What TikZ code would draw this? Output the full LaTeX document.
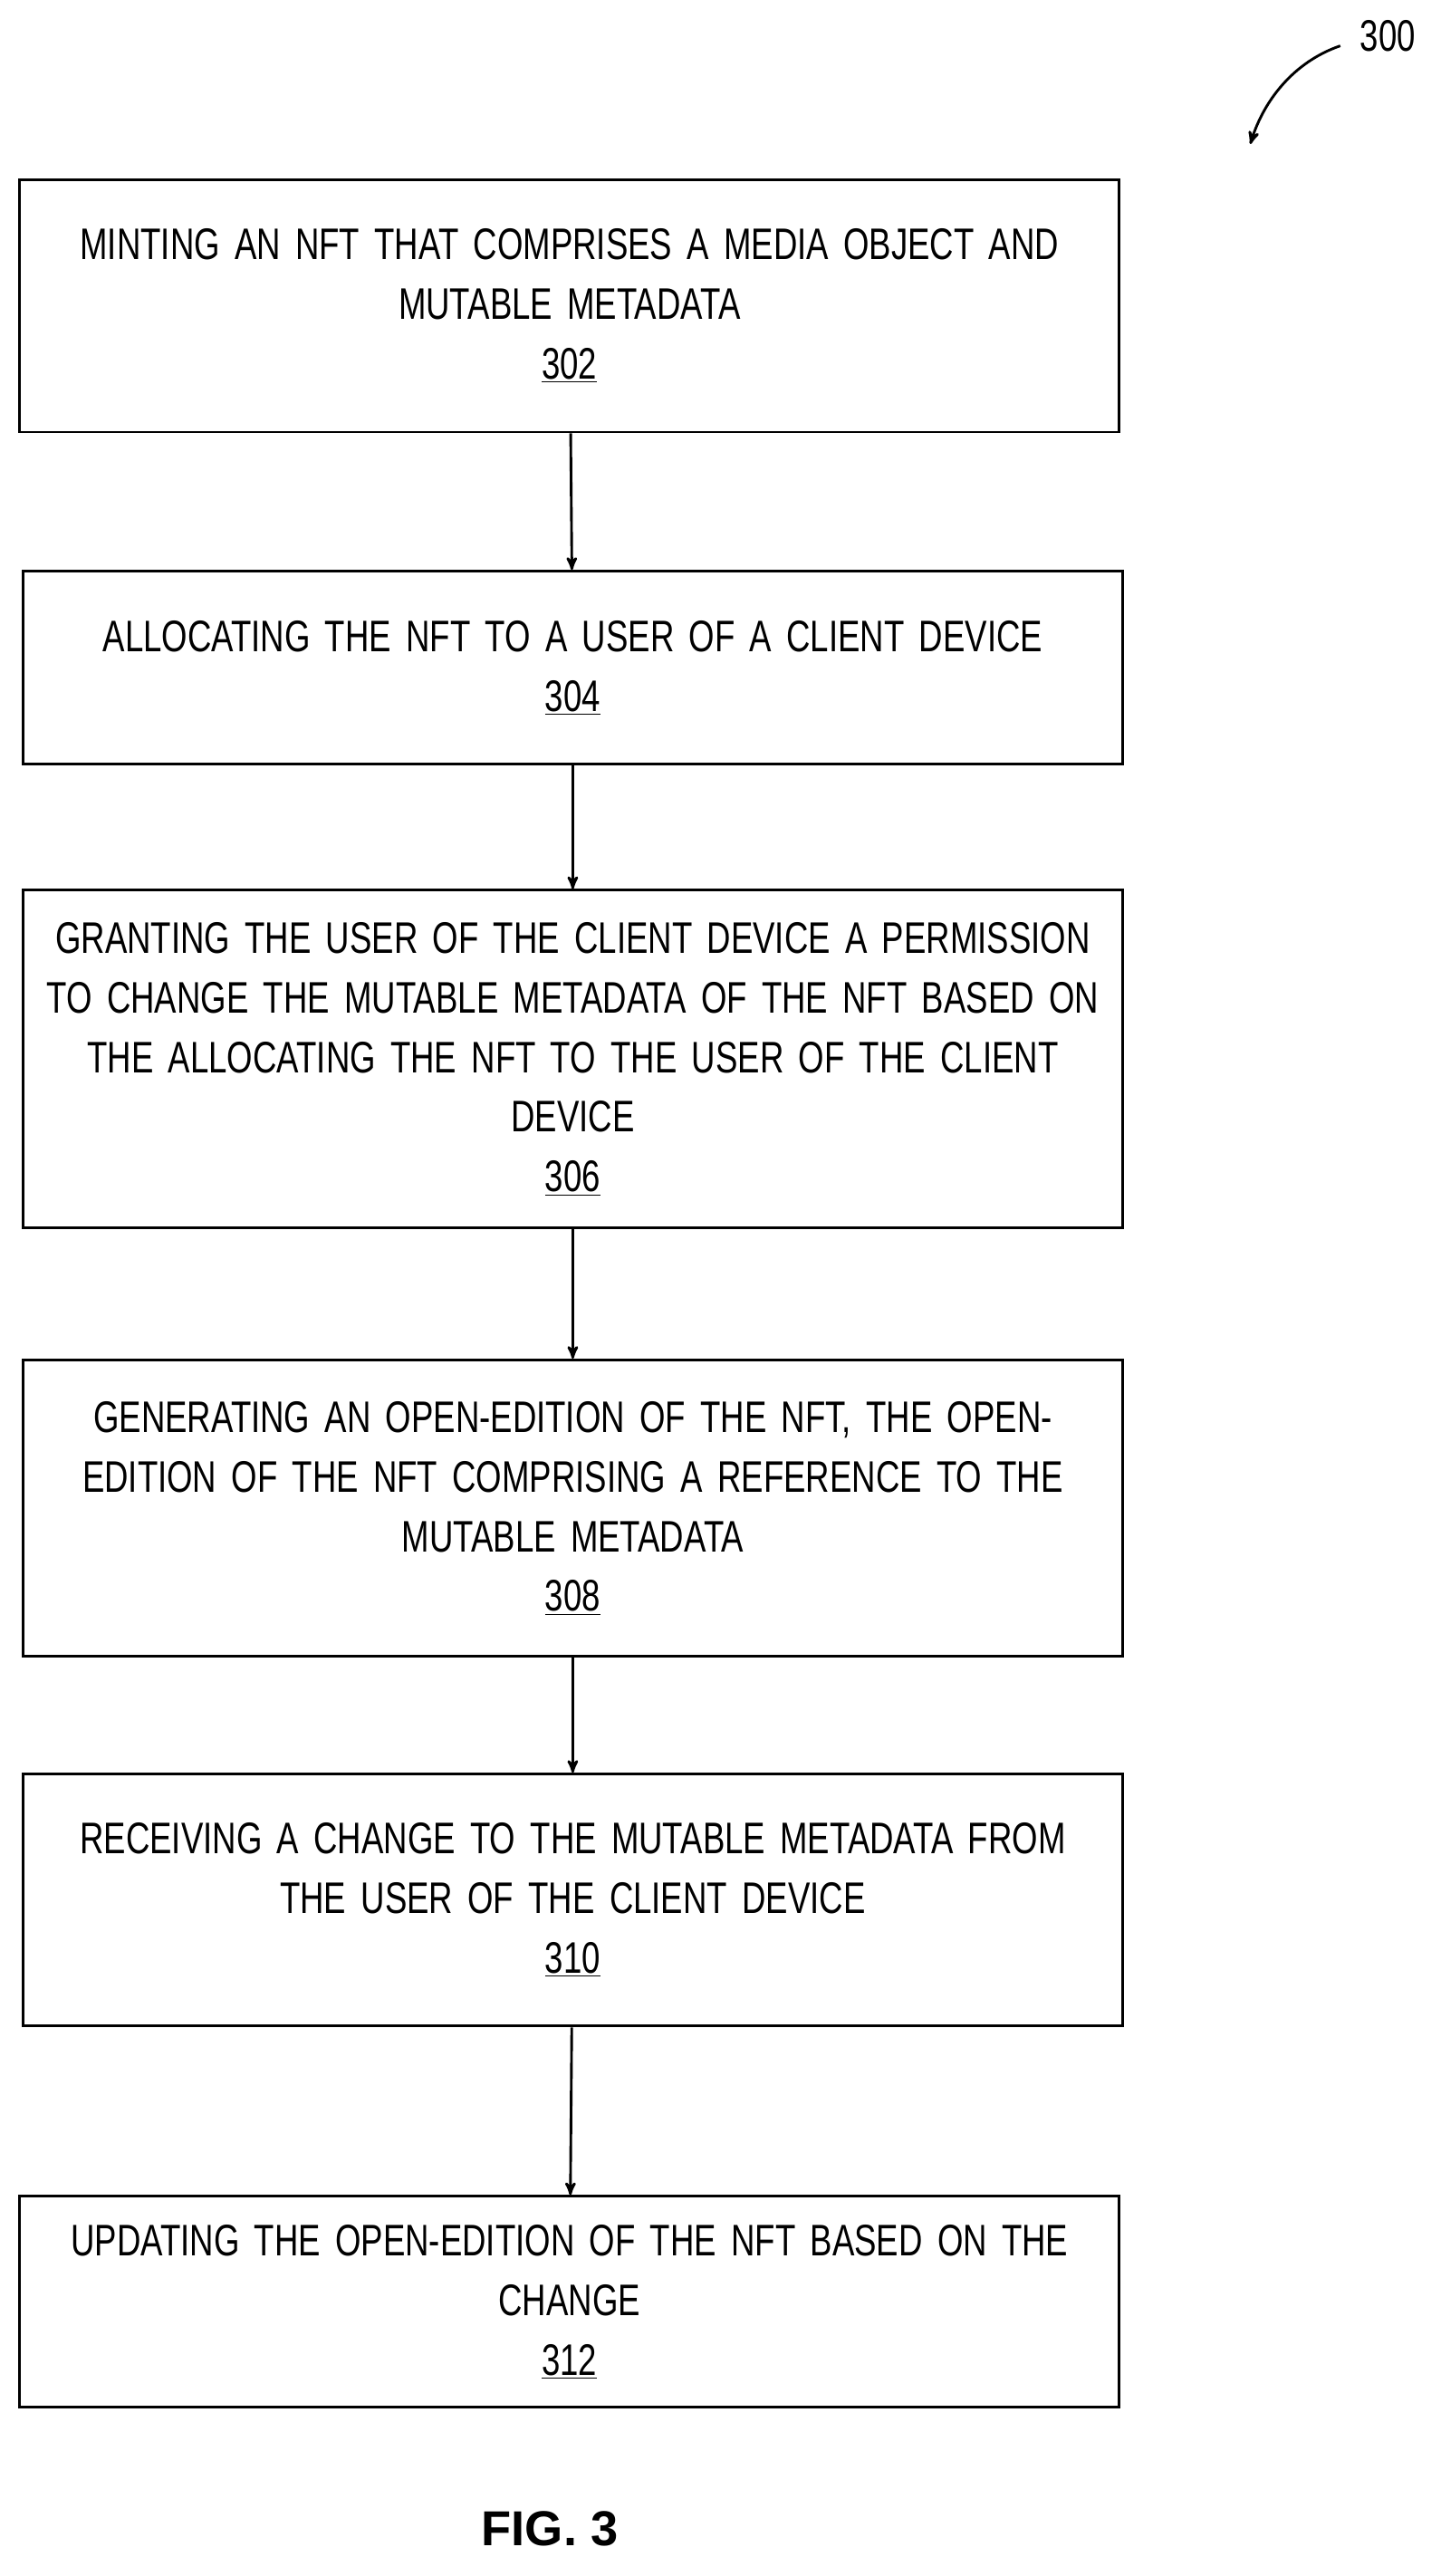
\documentclass[tikz,border=0pt]{standalone}
\usepackage{fontspec}
\setmainfont{Liberation Sans}[FakeStretch=0.75]
\newfontfamily\figfont{Liberation Sans}
\usetikzlibrary{arrows, positioning, calc}

\begin{document}
\begin{tikzpicture}[x=1pt,y=-1pt,->,>=stealth',line width=1.6pt,
      stepbox/.style={draw,rectangle,minimum width=672pt,align=center,
         text width=650pt,font=\fontsize{27}{36.5}\selectfont,inner sep=0pt}]
            \useasboundingbox (0,0) rectangle (880,1574);

            \node [stepbox, minimum height=154pt] at (348,187) (mint)
              {MINTING AN NFT THAT COMPRISES A MEDIA OBJECT AND\\MUTABLE METADATA\\\underline{302}};
            \node [stepbox, minimum height=118pt] at (350,408) (alloc)
              {ALLOCATING THE NFT TO A USER OF A CLIENT DEVICE\\\underline{304}};
            \node [stepbox, minimum height=206pt] at (350,647) (grant)
              {GRANTING THE USER OF THE CLIENT DEVICE A PERMISSION\\TO CHANGE THE MUTABLE METADATA OF THE NFT BASED ON\\THE ALLOCATING THE NFT TO THE USER OF THE CLIENT\\DEVICE\\\underline{306}};
            \node [stepbox, minimum height=181pt] at (350,921.5) (gen)
              {GENERATING AN OPEN-EDITION OF THE NFT, THE OPEN-\\EDITION OF THE NFT COMPRISING A REFERENCE TO THE\\MUTABLE METADATA\\\underline{308}};
            \node [stepbox, minimum height=154pt] at (350,1161) (recv)
              {RECEIVING A CHANGE TO THE MUTABLE METADATA FROM\\THE USER OF THE CLIENT DEVICE\\\underline{310}};
            \node [stepbox, minimum height=129pt] at (348,1406.5) (upd)
              {UPDATING THE OPEN-EDITION OF THE NFT BASED ON THE\\CHANGE\\\underline{312}};

            \node [font=\figfont\bfseries\fontsize{30}{36}\selectfont] at (336,1545) (fig) {FIG. 3};
            \node [font=\fontsize{27}{32}\selectfont] at (848,22) (num) {300};

            \draw (mint) -- (alloc);
            \draw (alloc) -- (grant);
            \draw (grant) -- (gen);
            \draw (gen) -- (recv);
            \draw (recv) -- (upd);
            \draw (num.west) ++(-8,6) .. controls (790,38) and (772,62) .. (764,88);
\end{tikzpicture}
\end{document}
